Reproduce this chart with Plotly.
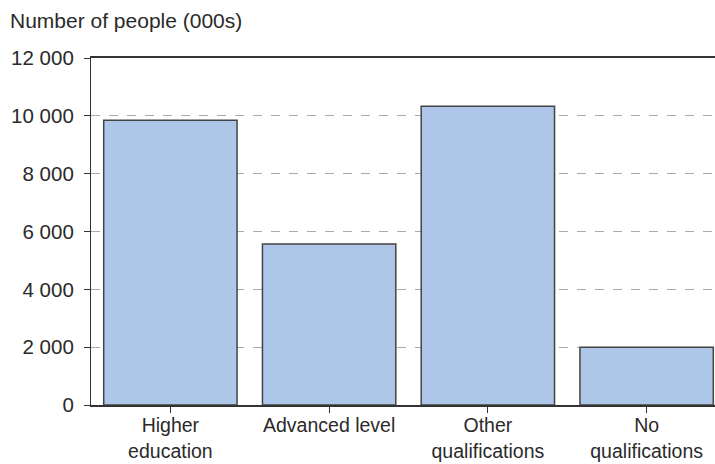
import plotly.graph_objects as go

categories = ["Higher<br>education", "Advanced level", "Other<br>qualifications", "No<br>qualifications"]
values = [9850, 5570, 10330, 2000]
y_ticks = [0, 2000, 4000, 6000, 8000, 10000, 12000]
y_tick_labels = ["0", "2 000", "4 000", "6 000", "8 000", "10 000", "12 000"]

fig = go.Figure()
fig.add_trace(go.Bar(
    x=list(range(len(categories))),
    y=values,
    marker=dict(color="#AEC6E8", line=dict(color="#444444", width=1.5)),
    width=0.84,
))

font = dict(family="Liberation Sans, Arial, sans-serif", size=20.5, color="#2a2a2a")

fig.update_layout(
    width=715, height=464,
    margin=dict(l=91, r=0, t=58, b=59),
    paper_bgcolor="white", plot_bgcolor="white",
    font=font,
    showlegend=False,
    annotations=[dict(text="Number of people (000s)", xref="paper", yref="paper",
                      x=-83/624, y=1 + 37/347, xanchor="left", yanchor="middle",
                      showarrow=False, font=dict(size=21, color="#2a2a2a"))],
)

fig.update_xaxes(
    range=[-0.5, 3.5 - 11/158.7],
    tickmode="array", tickvals=list(range(len(categories))), ticktext=categories,
    tickson="boundaries", ticks="outside", ticklen=6, tickcolor="#333333", tickwidth=1.2,
    tickfont=dict(size=19.5),
    ticklabelstandoff=-4,
    showline=True, linecolor="#333333", linewidth=1.5, mirror=True,
    showgrid=False, zeroline=False, automargin=False,
)
fig.update_yaxes(
    range=[0, 12000],
    tickmode="array", tickvals=y_ticks, ticktext=y_tick_labels,
    ticks="outside", ticklen=6, tickcolor="#333333", tickwidth=1.2,
    ticklabelstandoff=6,
    showline=True, linecolor="#333333", linewidth=1.2,
    showgrid=True, gridcolor="#AAAAAA", gridwidth=1, griddash="dash",
    zeroline=False, automargin=False,
)

fig.write_html("out.html")
